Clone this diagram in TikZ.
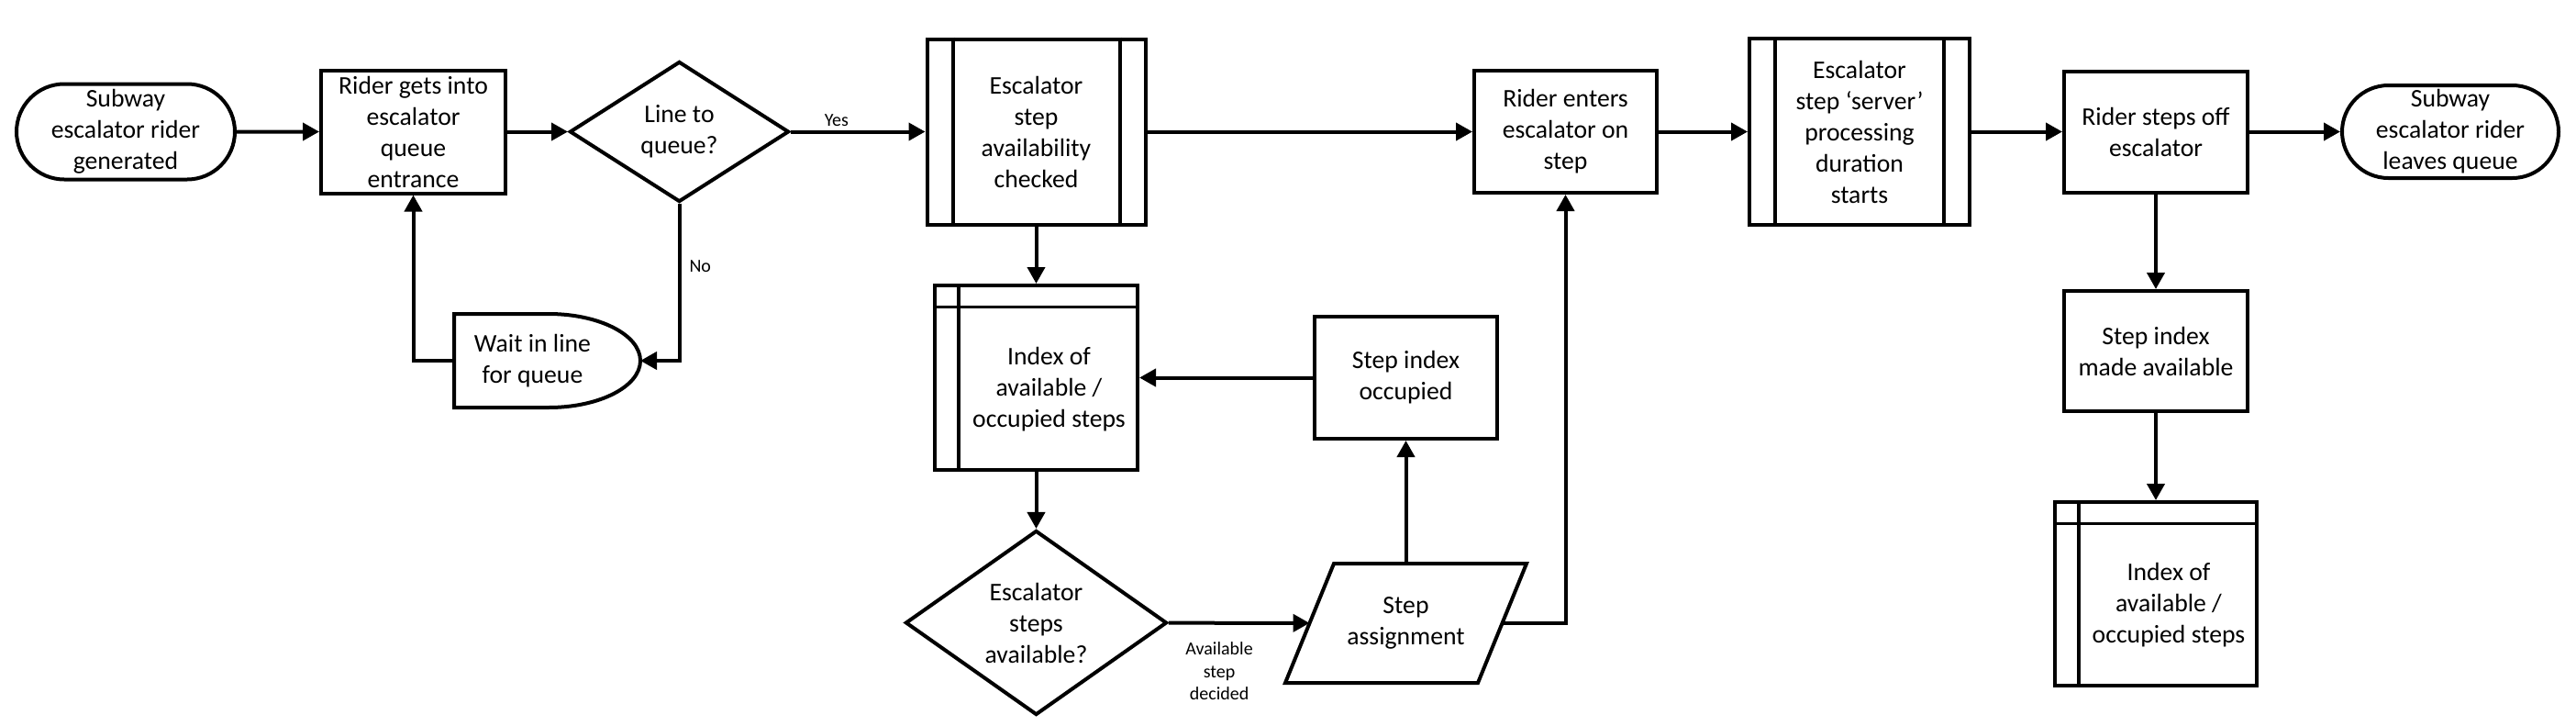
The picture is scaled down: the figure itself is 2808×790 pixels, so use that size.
\documentclass[tikz,border=0pt]{standalone}
\usepackage{fontspec}
\setmainfont{Carlito}
\usetikzlibrary{arrows.meta,shapes.geometric,shapes.misc}

\tikzset{
  boxline/.style={line width=4pt},
  stepbox/.style={draw, boxline, rectangle, align=center, inner sep=0pt,
    font=\fontsize{27.7pt}{34pt}\selectfont},
  endcap/.style={stepbox, rounded rectangle},
  choice/.style={stepbox, diamond, aspect=1.4},
  ghost/.style={stepbox, draw=none, outer sep=0pt},
  flow/.style={line width=4pt, -{Triangle[length=18pt,width=19pt]}},
  note/.style={font=\fontsize{20pt}{24.5pt}\selectfont, align=center, inner sep=0pt}
}

\begin{document}
\begin{tikzpicture}[x=1pt,y=1pt]
				
				\useasboundingbox (0,0) rectangle (2808,-790);
				
				% Top row
				\node[endcap, minimum width=238pt, minimum height=104pt] (start) at (137,-143.5) {Subway\\escalator rider\\generated};
				\node[stepbox, minimum width=201pt, minimum height=134pt] (enter) at (450.5,-143.5) {Rider gets into\\escalator\\queue\\entrance};
				\node[choice, minimum width=239pt, minimum height=153pt] (line) at (740.5,-143.5) {Line to\\queue?};
				\node[stepbox, minimum width=238pt, minimum height=202pt] (check) at (1129.5,-143.5) {Escalator\\step\\availability\\checked};
				\node[stepbox, minimum width=199pt, minimum height=133pt] (board) at (1706.5,-143.5) {Rider enters\\escalator on\\step};
				\node[stepbox, minimum width=240pt, minimum height=203pt] (serve) at (2027,-143.5) {Escalator\\step ‘server’\\processing\\duration\\starts};
				\node[stepbox, minimum width=200pt, minimum height=132pt] (off) at (2350,-143.5) {Rider steps off\\escalator};
				\node[endcap, minimum width=236pt, minimum height=101pt] (leave) at (2671,-143.5) {Subway\\escalator rider\\leaves queue};
				
				% Waiting loop (delay shape)
				\node[ghost, minimum width=203pt, minimum height=102pt] (wait) at (596.5,-393) {};
				\draw[boxline] (wait.north west) -- ++(103pt,0)
				arc[start angle=90, end angle=-90, x radius=100pt, y radius=51pt]
				-- (wait.south west) -- cycle;
				\node[ghost] (waittext) at ([xshift=-16pt]wait.center) {Wait in line\\for queue};
				
				% Step index branch
				\node[stepbox, minimum width=221pt, minimum height=201pt] (index) at (1129.5,-411.5) {};
				\node[ghost] (indextext) at ([xshift=14pt,yshift=-12.5pt]index.center) {Index of\\available /\\occupied steps};
				\node[stepbox, minimum width=199pt, minimum height=133pt] (occupied) at (1532.5,-411.5) {Step index\\occupied};
				\node[choice, minimum width=285pt, minimum height=201pt] (avail) at (1129.5,-678.5) {Escalator\\steps\\available?};
				
				% Parallelogram, slanted by 26.5 on each side
				\node[ghost, minimum width=210pt, minimum height=130pt] (assign) at (1532.5,-679) {Step\\assignment};
				\draw[boxline] ([xshift=26.5pt]assign.north west) -- ([xshift=26.5pt]assign.north east)
				-- ([xshift=-26.5pt]assign.south east) -- ([xshift=-26.5pt]assign.south west) -- cycle;
				
				% Step release branch
				\node[stepbox, minimum width=200pt, minimum height=131pt] (freed) at (2350,-382.5) {Step index\\made available};
				\node[stepbox, minimum width=220pt, minimum height=200pt] (index2) at (2350,-647) {};
				\node[ghost] (index2text) at ([xshift=14pt,yshift=-12.5pt]index2.center) {Index of\\available /\\occupied steps};
				
				% Inner bars of the process boxes and storage boxes
				\foreach \n in {check,serve} {
					\draw[boxline] ([xshift=30pt]\n.north west) -- ([xshift=30pt]\n.south west);
					\draw[boxline] ([xshift=-30pt]\n.north east) -- ([xshift=-30pt]\n.south east);
				}
				\foreach \n in {index,index2} {
					\draw[boxline] ([xshift=28pt]\n.north west) -- ([xshift=28pt]\n.south west);
					\draw[line width=3pt] ([yshift=-25pt]\n.north west) -- ([yshift=-25pt]\n.north east);
				}
				
				% Connectors
				\draw[flow] (start) -- (enter);
				\draw[flow] (enter) -- (line);
				\draw[flow] (line) -- node[note, pos=0.34, above=4pt] {Yes} (check);
				\draw[flow] (line.south) |- node[note, pos=0.2, right=9pt] {No} (wait.east);
				\draw[flow] (wait.west) -| (enter);
				\draw[flow] (check) -- (board);
				\draw[flow] (check) -- (index);
				\draw[flow] (index) -- (avail);
				\draw[flow] (occupied) -- (index);
				\draw[flow] (avail) -- node[note, pos=0.36, below=19pt] {Available\\step\\decided} (assign);
				\draw[flow] (assign) -- (occupied);
				\draw[flow] (assign.east) -| (board);
				\draw[flow] (board) -- (serve);
				\draw[flow] (serve) -- (off);
				\draw[flow] (off) -- (leave);
				\draw[flow] (off) -- (freed);
				\draw[flow] (freed) -- (index2);
				
\end{tikzpicture}
\end{document}
